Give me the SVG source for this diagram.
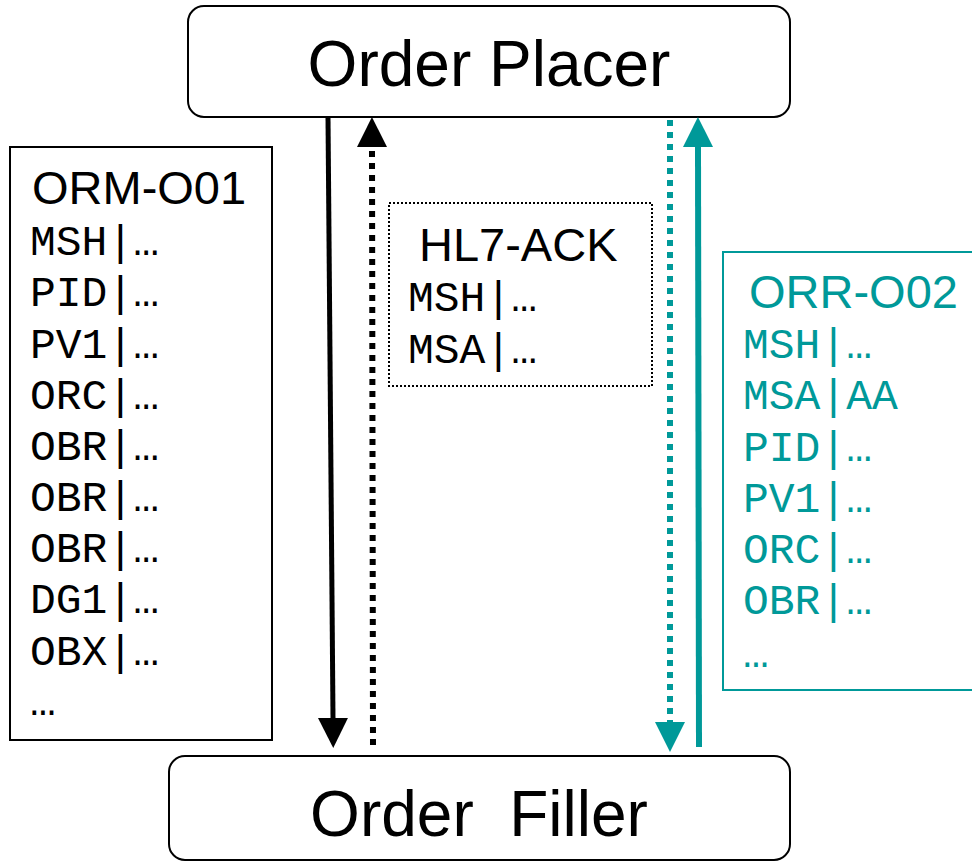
<svg xmlns="http://www.w3.org/2000/svg" width="972" height="863" viewBox="0 0 972 863">
<style>
.box{fill:#fff;stroke:#000;stroke-width:2}
.big{font-family:"Liberation Sans",Arial,sans-serif;font-size:64px;fill:#000}
.ttl{font-family:"Liberation Sans",Arial,sans-serif;font-size:47px}
.mono{font-family:"Liberation Mono","Courier New",monospace;font-size:43px}
.blk{fill:#000}
.teal{fill:#009999}
</style>
<defs>
<marker id="hb" viewBox="0 0 30 30" refX="0" refY="15" markerWidth="30" markerHeight="30" markerUnits="userSpaceOnUse" orient="auto"><path d="M0,0 L30,15 L0,30 z" fill="#000"/></marker>
<marker id="ht" viewBox="0 0 30 30" refX="0" refY="15" markerWidth="30" markerHeight="30" markerUnits="userSpaceOnUse" orient="auto"><path d="M0,0 L30,15 L0,30 z" fill="#009999"/></marker>
</defs>
<rect width="972" height="863" fill="#fff"/>
<g id="order-placer">
<rect class="box" x="188" y="6" width="602" height="111" rx="16"/>
<text class="big" x="489" y="86" text-anchor="middle">Order Placer</text>
</g>
<g id="order-filler">
<rect class="box" x="169" y="756" width="621" height="104" rx="16"/>
<text class="big" x="479" y="836" text-anchor="middle" xml:space="preserve">Order  Filler</text>
</g>
<g id="orm-o01">
<rect x="10" y="147" width="262" height="593" fill="#fff" stroke="#000" stroke-width="2"/>
<text class="ttl blk" x="32" y="204">ORM-O01</text>
<g class="mono blk">
<text x="30" y="255">MSH|…</text>
<text x="30" y="306">PID|…</text>
<text x="30" y="358">PV1|…</text>
<text x="30" y="409">ORC|…</text>
<text x="30" y="460">OBR|…</text>
<text x="30" y="511">OBR|…</text>
<text x="30" y="562">OBR|…</text>
<text x="30" y="613">DG1|…</text>
<text x="30" y="665">OBX|…</text>
<text x="30" y="715">…</text>
</g>
</g>
<g id="hl7-ack">
<rect x="389" y="203" width="263" height="183" fill="#fff" stroke="#000" stroke-width="2" stroke-dasharray="2 2"/>
<text class="ttl blk" x="419" y="261">HL7-ACK</text>
<g class="mono blk">
<text x="408" y="311">MSH|…</text>
<text x="408" y="363">MSA|…</text>
</g>
</g>
<g id="orr-o02">
<rect x="723" y="252" width="262" height="438" fill="#fff" stroke="#009999" stroke-width="2"/>
<text class="ttl teal" x="749" y="308">ORR-O02</text>
<g class="mono teal">
<text x="743" y="358">MSH|…</text>
<text x="743" y="409">MSA|AA</text>
<text x="743" y="461">PID|…</text>
<text x="743" y="512">PV1|…</text>
<text x="743" y="563">ORC|…</text>
<text x="743" y="614">OBR|…</text>
<text x="743" y="667">…</text>
</g>
</g>
<g id="connectors" fill="none">
<line x1="328" y1="117" x2="333" y2="718" stroke="#000" stroke-width="5" marker-end="url(#hb)"/>
<line x1="373" y1="745" x2="372" y2="147" stroke="#000" stroke-width="6" stroke-dasharray="6 6" marker-end="url(#hb)"/>
<line x1="670" y1="120" x2="670" y2="722" stroke="#009999" stroke-width="6" stroke-dasharray="6 6" marker-end="url(#ht)"/>
<line x1="699" y1="747" x2="698" y2="147" stroke="#009999" stroke-width="6" marker-end="url(#ht)"/>
</g>
</svg>
